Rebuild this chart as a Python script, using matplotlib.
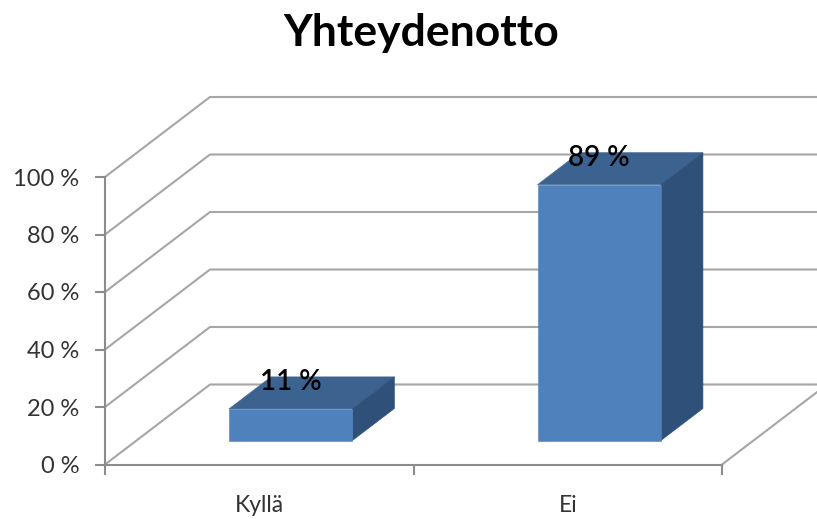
import matplotlib
matplotlib.use('Agg')
import matplotlib.pyplot as plt
from matplotlib.patches import Polygon

plt.rcParams['font.family'] = ['Lato', 'DejaVu Sans']

title = 'Yhteydenotto'
categories = ['Kyllä', 'Ei']
values = [11, 89]
y_ticks = [0, 20, 40, 60, 80, 100]

W, H = 817, 519
LEFT, RIGHT, TOP, BOTTOM = 105, 722, 177, 464.5

# oblique offset of the back wall, in axis units
DEPTH_X = 105 / ((RIGHT - LEFT) / len(categories))
DEPTH_Y = 80 / ((BOTTOM - TOP) / 100)
BAR_WIDTH = 0.4
BAR_FRONT, BAR_BACK = 0.3, 0.7

LINE = '#a6a6a6'
AXIS = '#8c8c8c'
FRONT = '#4f81bd'
ROOF = '#3c6290'
SIDE = '#2f5078'


def oblique(x, y, d):
  return (x + d * DEPTH_X, y + d * DEPTH_Y)


fig = plt.figure(figsize=(W / 100, H / 100), dpi=100)
ax = fig.add_axes([LEFT / W, 1 - BOTTOM / H, (RIGHT - LEFT) / W, (BOTTOM - TOP) / H])
ax.set_xlim(0, len(categories))
ax.set_ylim(0, 100)
ax.patch.set_alpha(0)

for s in ['top', 'right']:
  ax.spines[s].set_visible(False)
for s in ['left', 'bottom']:
  ax.spines[s].set_color(AXIS)
  ax.spines[s].set_linewidth(1.5)

ax.set_yticks(y_ticks)
ax.set_yticklabels([f'{t} %' for t in y_ticks], fontsize=17, color='#333333')
ax.tick_params(axis='y', length=7, width=1.5, color=AXIS, pad=11.5)

ax.set_xticks([i for i in range(len(categories) + 1)])
ax.set_xticklabels([])
ax.set_xticks([i + 0.5 for i in range(len(categories))], minor=True)
ax.set_xticklabels(categories, minor=True, fontsize=16.5, color='#333333')
ax.tick_params(axis='x', which='major', length=7, width=1.5, color=AXIS)
ax.tick_params(axis='x', which='minor', length=0, pad=22)

# side wall diagonals and back wall lines
for t in y_ticks:
  bx, by = oblique(0, t, 1)
  ex, ey = oblique(len(categories), t, 1)
  ax.plot([0, bx, ex], [t, by, ey], color=LINE, lw=1.5, clip_on=False, zorder=1)

# right edge of the floor
fx, fy = oblique(len(categories), 0, 1)
ax.plot([len(categories), fx], [0, fy], color=LINE, lw=1.5, clip_on=False, zorder=1)

for i, v in enumerate(values):
  x0 = i + 0.5 - BAR_WIDTH / 2
  x1 = x0 + BAR_WIDTH
  dx, y0 = oblique(x0, 0, BAR_FRONT)
  rx = x1 + BAR_FRONT * DEPTH_X
  y1 = y0 + v
  back_l = oblique(x0, v, BAR_BACK)
  back_r = oblique(x1, v, BAR_BACK)
  back_b = oblique(x1, 0, BAR_BACK)
  ax.add_patch(Polygon([(dx, y1), (rx, y1), back_r, back_l], fc=ROOF, ec=ROOF, lw=0.4, clip_on=False, zorder=3))
  ax.add_patch(Polygon([(rx, y0), back_b, back_r, (rx, y1)], fc=SIDE, ec=SIDE, lw=0.4, clip_on=False, zorder=3))
  ax.add_patch(Polygon([(dx, y0), (rx, y0), (rx, y1), (dx, y1)], fc=FRONT, ec=FRONT, lw=0.4, clip_on=False, zorder=4))
  ax.annotate(f'{v} %', ((dx + rx) / 2, y1), xytext=(0, 19.5), textcoords='offset points',
              ha='center', va='center', fontsize=20, fontweight='semibold', color='black', zorder=5)

fig.text(421.5 / W, 1 - 33 / H, title, ha='center', va='center', fontsize=32, fontweight='bold', color='black')

fig.savefig('out.png', dpi=100, facecolor='white')
